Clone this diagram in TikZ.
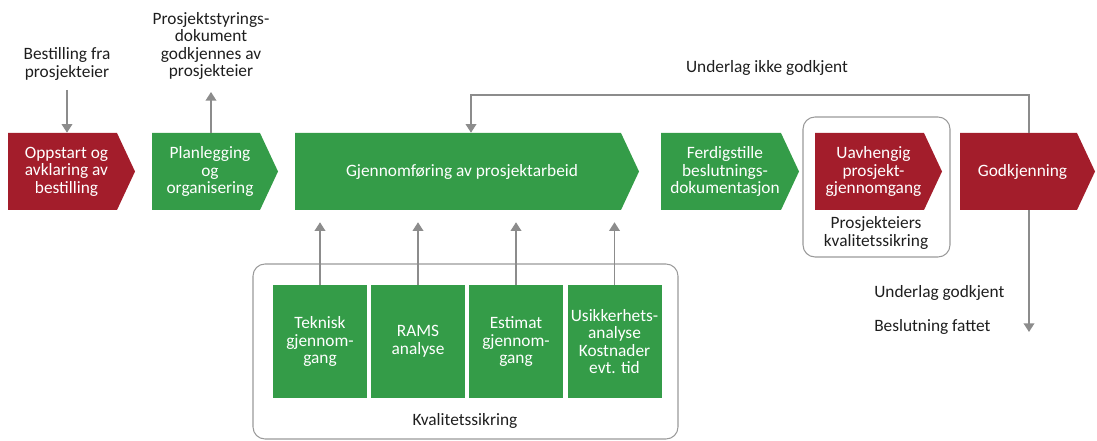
\documentclass[tikz,border=0pt]{standalone}
\usepackage{fontspec}
\setmainfont{Carlito}
\usetikzlibrary{arrows.meta}
\definecolor{myred}{HTML}{A31D2B}
\definecolor{mygreen}{HTML}{349C48}
\definecolor{mygray}{HTML}{8C8C8C}
\definecolor{frm}{HTML}{9A9A9A}
\definecolor{txt}{HTML}{1E1E1E}
% name, x-left, x-body-right, y-top, y-bottom, colour, text
\newcommand\chevbox[7]{%
  \fill[#6] (#2,#4) -- (#3,#4) -- ({#3+18},{(#4+#5)/2}) -- (#3,#5) -- (#2,#5) -- cycle;
  \node[boxtxt, minimum width={(#3-#2)*0.75pt}, minimum height={(#5-#4)*0.75pt}]
    (#1) at ({(#2+#3)/2+4},{(#4+#5)/2}) {#7};}
\begin{document}
\begin{tikzpicture}[x=0.75pt,y=-0.75pt,
  font=\fontsize{13}{13.2}\selectfont,
  lbl/.style={text=txt, align=center, inner sep=0pt},
  boxtxt/.style={text=white, align=center, inner sep=0pt},
  qbox/.style={fill=mygreen, text=white, align=center, inner sep=0pt,
    minimum width=70.5pt, minimum height=84.75pt},
  conn/.style={draw=mygray, line width=1.1pt, -{Triangle[length=6.5pt,width=8pt]}},
  frame/.style={draw=frm, line width=0.8pt, rounded corners=9pt}]
\useasboundingbox (0,0) rectangle (1097,441);

% frames
\draw[frame] (803,117) rectangle (950,257);
\draw[frame] (253,264) rectangle (678,439);

% main chevrons
\chevbox{opp}{8}{117}{133}{210}{myred}{Oppstart og\\avklaring av\\bestilling}
\chevbox{plan}{152}{260}{133}{210}{mygreen}{Planlegging\\og\\organisering}
\chevbox{gjen}{295}{621}{133}{210}{mygreen}{Gjennomføring av prosjektarbeid}
\chevbox{ferd}{661}{781}{133}{210}{mygreen}{Ferdigstille\\beslutnings-\\dokumentasjon}
\chevbox{uav}{815}{924}{133}{210}{myred}{Uavhengig\\prosjekt-\\gjennomgang}
\chevbox{god}{960}{1077}{133}{210}{myred}{Godkjenning}

% quality boxes
\node[qbox] (tek) at (320,341.5) {Teknisk\\gjennom-\\gang};
\node[qbox] (rams) at (418,341.5) {RAMS\\analyse};
\node[qbox] (est) at (516,341.5) {Estimat\\gjennom-\\gang};
\node[qbox] (usik) at (614.5,341.5) {Usikkerhets-\\analyse\\Kostnader\\evt. tid};

% labels
\node[lbl] (best) at (67,64) {Bestilling fra\\prosjekteier};
\node[lbl] (psd) at (211,46) {Prosjektstyrings-\\dokument\\godkjennes av\\prosjekteier};
\node[lbl] (uikke) at (767,68) {Underlag ikke godkjent};
\node[lbl] (pkv) at (876,233) {Prosjekteiers\\kvalitetssikring};
\node[lbl] (kv) at (465,421) {Kvalitetssikring};
\node[lbl, anchor=west] (ugod) at (874,293) {Underlag godkjent};
\node[lbl, anchor=west] (besl) at (874,327) {Beslutning fattet};

% coordinates
\coordinate (lp) at (1029,95);
\coordinate (lpend) at (1029,332);
\coordinate (gin) at (471,95);

% connectors
\draw[conn] (67,90) -- (opp.north -| 67,0);
\draw[conn] (plan.north -| 211,0) -- (211,92);
\draw[conn] (god.north -| lp) -- (lp) -- (gin) -- (gjen.north -| gin);
\draw[conn] (god.south -| lp) -- (lpend);
\foreach \b in {tek,rams,est,usik}
  \draw[conn] (\b.north) -- ([yshift=-9pt]gjen.south -| \b.north);
\end{tikzpicture}
\end{document}
